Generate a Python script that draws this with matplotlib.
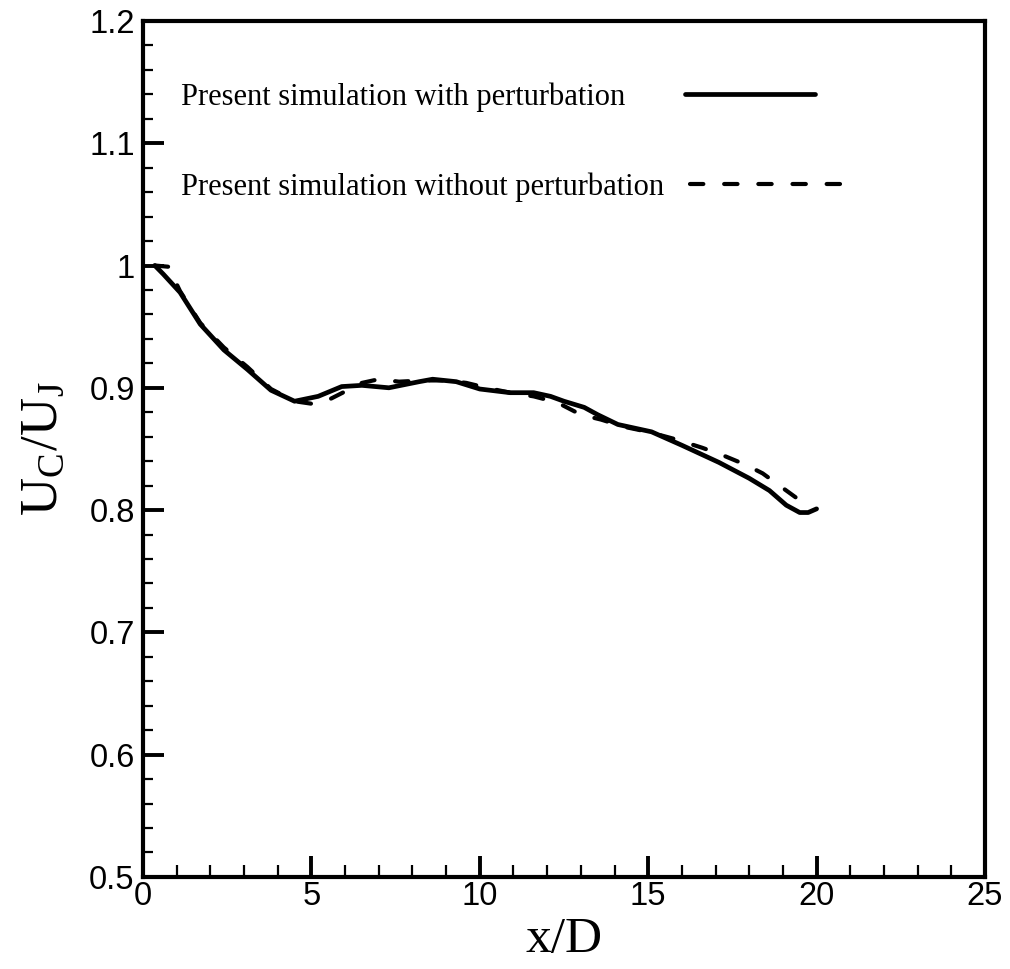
import matplotlib
matplotlib.use('Agg')
import matplotlib.pyplot as plt
from matplotlib.ticker import MultipleLocator, FuncFormatter

# centreline velocity decay
x_with = [0.35, 0.6, 1.1, 1.7, 2.4, 3.1, 3.8, 4.5, 5.2, 5.9, 6.5, 7.3, 8.2,
          8.6, 9.3, 10.0, 10.3, 10.9, 11.6, 12.1, 12.5, 13.1, 13.5, 14.1,
          15.1, 16.0, 17.1, 18.0, 18.6, 19.1, 19.5, 19.75, 20.0]
y_with = [1.0, 0.993, 0.978, 0.952, 0.931, 0.915, 0.898, 0.889, 0.893, 0.901,
          0.902, 0.900, 0.905, 0.907, 0.905, 0.899, 0.898, 0.896, 0.896, 0.893,
          0.889, 0.884, 0.878, 0.870, 0.864, 0.853, 0.839, 0.826, 0.816, 0.804,
          0.798, 0.798, 0.801]

x_without = [0.35, 0.75, 1.1, 1.7, 2.4, 3.1, 3.8, 4.5, 5.0, 5.5, 6.0, 6.5, 7.0,
             7.6, 8.3, 9.0, 9.6, 10.2, 10.9, 11.6, 12.3, 13.0, 13.6, 14.3,
             15.0, 15.8, 16.6, 17.2, 17.9, 18.4, 19.0, 19.4, 19.8]
y_without = [1.0, 0.999, 0.979, 0.953, 0.933, 0.917, 0.899, 0.889, 0.887, 0.890,
             0.897, 0.904, 0.907, 0.905, 0.906, 0.906, 0.904, 0.900, 0.896, 0.893,
             0.888, 0.878, 0.874, 0.868, 0.864, 0.858, 0.851, 0.845, 0.837, 0.830,
             0.818, 0.810, 0.804]

labels = ['Present simulation with perturbation',
          'Present simulation without perturbation']

plt.rcParams['mathtext.fontset'] = 'stix'

fig = plt.figure(figsize=(10.1, 9.69), dpi=100)
ax = fig.add_axes([0.1416, 0.095, 0.8336, 0.8834])

l1, = ax.plot(x_with, y_with, color='black', lw=3.4, solid_capstyle='round',
              solid_joinstyle='round', label=labels[0])
l2, = ax.plot(x_without, y_without, color='black', lw=3.0, dashes=(3.2, 5.0),
              dash_capstyle='round', label=labels[1])

ax.set_xlim(0, 25)
ax.set_ylim(0.5, 1.2)
ax.xaxis.set_major_locator(MultipleLocator(5))
ax.xaxis.set_minor_locator(MultipleLocator(1))
ax.yaxis.set_major_locator(MultipleLocator(0.1))
ax.yaxis.set_minor_locator(MultipleLocator(0.02))
ax.yaxis.set_major_formatter(FuncFormatter(lambda v, p: '%g' % round(v, 2)))

for s in ax.spines.values():
    s.set_linewidth(3.0)

ax.tick_params(which='both', direction='in', top=False, right=False,
               labelsize=23.5, labelfontfamily='Liberation Sans')
ax.tick_params(axis='x', which='major', length=15, width=2.8, pad=3)
ax.tick_params(axis='x', which='minor', length=9, width=1.6)
ax.tick_params(axis='y', which='major', length=15, width=2.8, pad=6)
ax.tick_params(axis='y', which='minor', length=7, width=1.6)

ax.set_xlabel('x/D', fontsize=37, family='Liberation Serif', labelpad=3)
ax.set_ylabel(r'U$_\mathregular{C}$/U$_\mathregular{J}$', fontsize=38,
              family='Liberation Serif', labelpad=15)

# one legend per row so the labels stay left aligned
legend_font = {'family': 'Liberation Serif', 'size': 22}
leg1 = ax.legend(handles=[l1], loc='center left', bbox_to_anchor=(0.045, 0.911),
                 frameon=False, markerfirst=False, borderpad=0, borderaxespad=0,
                 handlelength=4.25, handletextpad=1.95, prop=legend_font)
ax.add_artist(leg1)
ax.legend(handles=[l2], loc='center left', bbox_to_anchor=(0.045, 0.806),
          frameon=False, markerfirst=False, borderpad=0, borderaxespad=0,
          handlelength=5.3, handletextpad=0.85, prop=legend_font)

fig.savefig('out.png', dpi=100)
